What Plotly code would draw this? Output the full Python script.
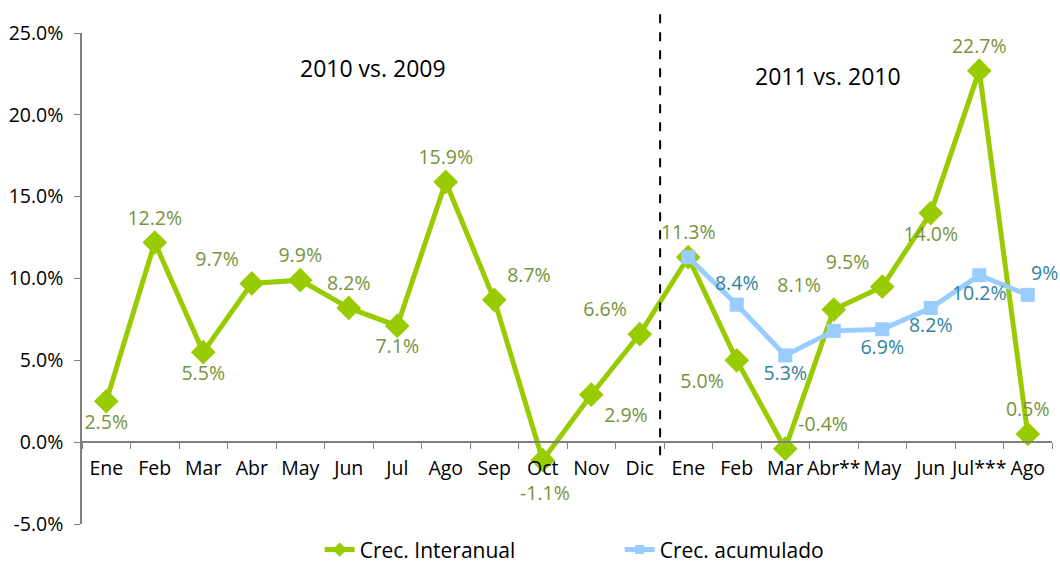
import plotly.graph_objects as go

categories = ["Ene", "Feb", "Mar", "Abr", "May", "Jun", "Jul", "Ago", "Sep", "Oct", "Nov", "Dic",
              "Ene", "Feb", "Mar", "Abr**", "May", "Jun", "Jul***", "Ago"]
interanual = [2.5, 12.2, 5.5, 9.7, 9.9, 8.2, 7.1, 15.9, 8.7, -1.1, 2.9, 6.6,
              11.3, 5.0, -0.4, 8.1, 9.5, 14.0, 22.7, 0.5]
interanual_text = ["2.5%", "12.2%", "5.5%", "9.7%", "9.9%", "8.2%", "7.1%", "15.9%", "8.7%", "", "2.9%", "6.6%",
                   "11.3%", "5.0%", "-0.4%", "8.1%", "9.5%", "14.0%", "22.7%", "0.5%"]
interanual_pos = ["bottom center", "top center", "bottom center", "top left", "top center", "top center",
                  "bottom center", "top center", "top right", "bottom center", "bottom right", "top left",
                  "top center", "bottom left", "top right", "top left", "top left", "bottom center",
                  "top center", "top center"]
oct_idx = 9
oct_label = "-1.1%"
acum_idx = [12, 13, 14, 15, 16, 17, 18, 19]
acumulado = [11.3, 8.4, 5.3, 6.8, 6.9, 8.2, 10.2, 9.0]
acum_text = ["", "8.4%", "5.3%", "", "6.9%", "8.2%", "10.2%", ""]
acum_pos = ["top center", "top center", "bottom center", "top center", "bottom center",
            "bottom center", "bottom center", "top center"]
acum_last_label = "9%"
y_ticks = [-5, 0, 5, 10, 15, 20, 25]
y_ticktext = ["-5.0%", "0.0%", "5.0%", "10.0%", "15.0%", "20.0%", "25.0%"]
separator = 11.42  # between Dic 2010 and Ene 2011

FONT = "Open Sans"
GREEN = "#99CC00"
GREEN_TXT = "#77933C"
BLUE = "#99CCFF"
BLUE_TXT = "#31849B"
x_idx = list(range(len(categories)))
n = len(categories)
FS = 19.5

fig = go.Figure()
fig.add_trace(go.Scatter(
    x=x_idx, y=interanual, mode="lines+markers+text", name="Crec. Interanual",
    line=dict(color=GREEN, width=5),
    marker=dict(symbol="diamond", size=19, color=GREEN),
    text=interanual_text, textposition=interanual_pos,
    textfont=dict(color=GREEN_TXT, size=FS, family=FONT),
    cliponaxis=False, showlegend=False,
))
fig.add_trace(go.Scatter(
    x=acum_idx, y=acumulado, mode="lines+markers+text", name="Crec. acumulado",
    line=dict(color=BLUE, width=5),
    marker=dict(symbol="square", size=14, color=BLUE),
    text=acum_text, textposition=acum_pos,
    textfont=dict(color=BLUE_TXT, size=FS, family=FONT),
    cliponaxis=False, showlegend=False,
))
# legend entries with smaller symbols
fig.add_trace(go.Scatter(x=[None], y=[None], mode="lines+markers", name="Crec. Interanual",
                         line=dict(color=GREEN, width=5),
                         marker=dict(symbol="diamond", size=11, color=GREEN)))
fig.add_trace(go.Scatter(x=[None], y=[None], mode="lines+markers", name="Crec. acumulado",
                         line=dict(color=BLUE, width=5),
                         marker=dict(symbol="square", size=9, color=BLUE)))

fig.add_annotation(x=acum_idx[-1], y=acumulado[-1], xref="x", yref="y", text=acum_last_label,
                   showarrow=False, xshift=17, yshift=22,
                   font=dict(size=FS, color=BLUE_TXT, family=FONT))
fig.add_annotation(x=oct_idx, y=interanual[oct_idx], xref="x", yref="y", text=oct_label,
                   showarrow=False, xshift=2, yshift=-32,
                   font=dict(size=FS, color=GREEN_TXT, family=FONT))

fig.add_shape(type="line", xref="paper", yref="paper",
              x0=(separator + 0.5) / n, x1=(separator + 0.5) / n,
              y0=(-0.8 + 5) / 30, y1=(26.5 + 5) / 30,
              line=dict(color="black", width=2, dash="dash"))

fig.add_annotation(x=5.5, y=22.85, xref="x", yref="y", text="2010 vs. 2009", showarrow=False,
                   font=dict(size=23, color="black", family=FONT))
fig.add_annotation(x=14.88, y=22.4, xref="x", yref="y", text="2011 vs. 2010", showarrow=False,
                   font=dict(size=23, color="black", family=FONT))

fig.update_layout(
    width=1060, height=564,
    margin=dict(l=82, r=8, t=33, b=40, autoexpand=False),
    plot_bgcolor="white", paper_bgcolor="white",
    font=dict(family=FONT, size=FS, color="black"),
    showlegend=True,
    legend=dict(orientation="h", x=0.245, xanchor="left", y=0.025, yanchor="middle",
                yref="container",
                font=dict(size=21, color="black", family=FONT),
                entrywidth=255, entrywidthmode="pixels"),
    xaxis=dict(range=[-0.5, n - 0.5], tickvals=x_idx, ticktext=categories, tickangle=0,
               showgrid=False, zeroline=False, showline=True, linecolor="#808080", linewidth=1.5,
               ticks="", anchor="free", position=5 / 30, automargin=False, ticklabelstandoff=9,
               minor=dict(ticks="outside", tick0=-0.5, dtick=1, ticklen=6, tickcolor="#808080",
                          showgrid=False),
               tickfont=dict(size=FS, color="black", family=FONT)),
    yaxis=dict(range=[-5, 25], tickvals=y_ticks, ticktext=y_ticktext, automargin=False,
               showgrid=False, zeroline=False, showline=True, linecolor="#808080", linewidth=1.5,
               ticks="outside", ticklen=6, tickcolor="#808080", ticklabelstandoff=7,
               tickfont=dict(size=FS, color="black", family=FONT)),
)

fig.write_html("out.html", config={"displayModeBar": False},
               post_script="document.body.style.margin='0';")
